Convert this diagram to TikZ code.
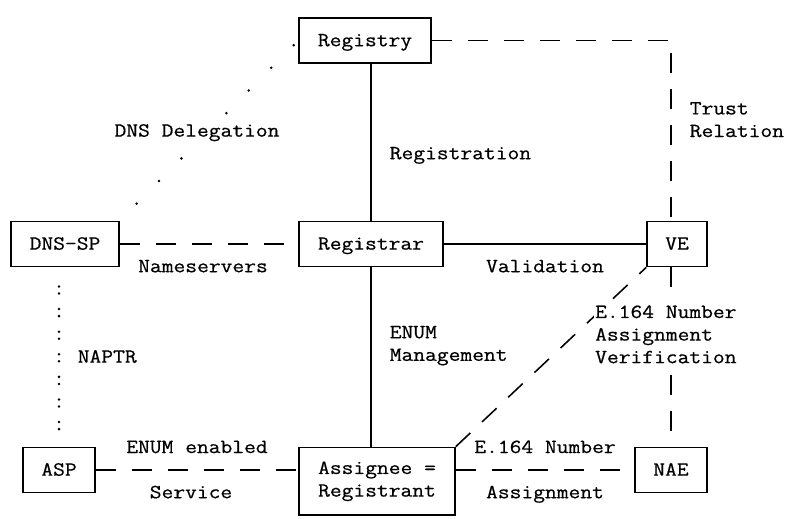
\documentclass[tikz,border=0pt]{standalone}
\usepackage{fontspec}
\setmainfont[FakeStretch=1.14, FakeBold=0.6]{Latin Modern Mono}

\begin{document}
\begin{tikzpicture}[x=0.3cm, y=-0.565cm, line width=1.1pt,
  every node/.style={font=\fontsize{14.27}{16.07}\selectfont, inner sep=0pt},
  box/.style={draw, minimum height=1.13cm, text height=8pt, text depth=0pt},
  bigbox/.style={draw, minimum height=1.695cm, align=center},
  lbl/.style={text height=8pt, text depth=0pt},
  mlbl/.style={align=left},
  dashline/.style={dash pattern=on 0.5cm off 0.4cm},
  dotline/.style={line width=2pt, line cap=round, dash pattern=on 0pt off 0.797cm, dash phase=0.2cm},
  colonline/.style={line width=2pt, line cap=round, dash pattern=on 0pt off 0.176cm on 0pt off 0.389cm,
    dash phase=0.3875cm, shorten <=0.3cm, shorten >=0.3cm}]
  \useasboundingbox (0,0) rectangle (19.65cm,-12.95cm);
  \begin{scope}[shift={(0.275cm,-0.45cm)}]
  \node[box, minimum width=3.3cm] (registry) at (29.5,1) {Registry};
  \node[box, minimum width=2.7cm] (dnssp) at (4.5,10) {DNS-SP};
  \node[box, minimum width=3.6cm] (registrar) at (30,10) {Registrar};
  \node[box, minimum width=1.5cm] (ve) at (55.5,10) {VE};
  \node[box, minimum width=1.8cm] (asp) at (4,20) {ASP};
  \node[bigbox, minimum width=3.9cm] (assignee) at (30.5,20.5) {Assignee =\\Registrant};
  \node[box, minimum width=1.8cm] (nae) at (55,20) {NAE};

  \draw[dotline] (dnssp.north east) -- (registry.west);
  \draw[dashline] (registry.east) -| ([xshift=-1.5mm]ve.north);
  \draw (registrar.north) -- (registrar.north |- registry.south);
  \draw[dashline] (dnssp.east) -- (registrar.west);
  \draw (registrar.east) -- (ve.west);
  \draw[colonline] (dnssp.south -| asp.north) -- (asp.north);
  \draw (registrar.south) -- (registrar.south |- assignee.north);
  \draw[dashline] (assignee.north east) -- (ve.south west);
  \draw[dashline] (ve.south -| nae.north) -- (nae.north);
  \draw[dashline] (asp.east) -- (asp.east -| assignee.west);
  \draw[dashline] (assignee.east |- nae.west) -- (nae.west);

  \node[lbl, fill=white, inner xsep=1pt, inner ysep=2.5pt] (deleg) at (15.5,5) {DNS Delegation};
  \node[lbl, anchor=west] (regn) at (31.5,6) {Registration};
  \node[mlbl, anchor=west] (trust) at (56.5,4.5) {Trust\\Relation};
  \node[lbl] (nsrv) at (16,11) {Nameservers};
  \node[lbl] (valid) at (44.5,11) {Validation};
  \node[lbl, anchor=west] (naptr) at (5.5,15) {NAPTR};
  \node[mlbl, anchor=west] (mgmt) at (31.5,14.5) {ENUM\\Management};
  \node[mlbl, anchor=west, fill=white, inner xsep=1pt, inner ysep=4pt] (verif) at (48.5,14) {E.164 Number\\Assignment\\Verification};
  \node[lbl] (enabled) at (15.5,19) {ENUM enabled};
  \node[lbl] (service) at (15,21) {Service};
  \node[lbl] (number) at (44.5,19) {E.164 Number};
  \node[lbl] (assign) at (44.5,21) {Assignment};
  \end{scope}
\end{tikzpicture}
\end{document}
